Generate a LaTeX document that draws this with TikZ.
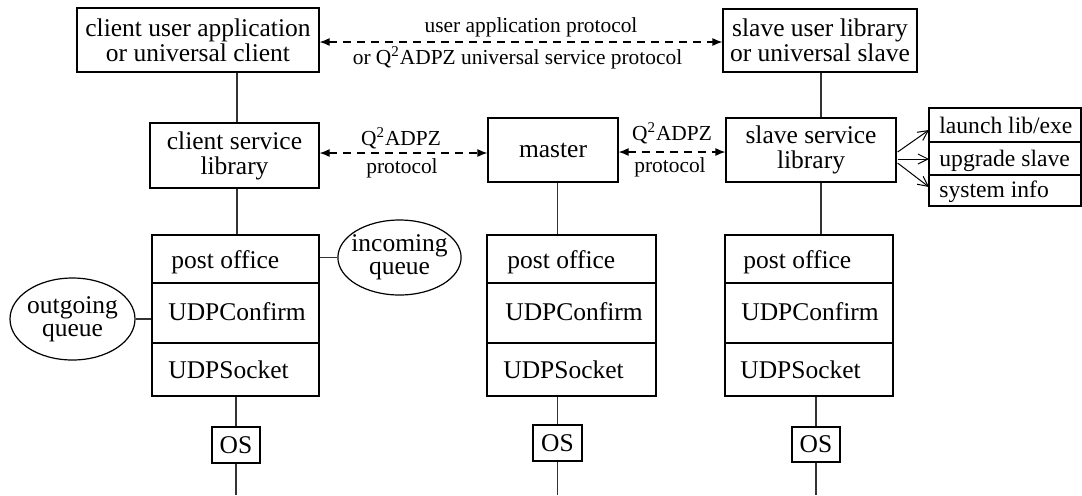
\documentclass[tikz,border=0pt]{standalone}
\usepackage{fontspec}
\setmainfont{Liberation Serif}
\usetikzlibrary{arrows.meta,shapes.geometric,calc}
\newcommand{\px}{0.5pt}
\tikzset{
  big/.style={font=\fontsize{12.75}{12.6}\selectfont},
  small/.style={font=\fontsize{10.7}{12}\selectfont},
  mid/.style={font=\fontsize{11.8}{12}\selectfont},
  sz/.style 2 args={minimum width=#1*\px, minimum height=#2*\px},
  box/.style={draw, line width=0.6pt, inner sep=0pt, align=center, big},
  queue/.style={draw, ellipse, line width=0.6pt, inner ysep=0pt, inner xsep=-2.3pt, align=center, font=\fontsize{12.75}{11.3}\selectfont},
  link/.style={line width=0.6pt, draw=black!80},
  proto/.style={line width=0.6pt, dash pattern=on 4pt off 3pt, {Latex[length=5pt,width=4pt]}-{Latex[length=5pt,width=4pt]}},
  call/.style={line width=0.5pt, -{Straight Barb[length=5pt,width=5pt]}},
  cell/.style={anchor=base west, inner sep=0pt, big},
}
\begin{document}
\begin{tikzpicture}[x=0.5pt,y=-0.5pt]
\useasboundingbox (0,0) rectangle (1082,495);

% upper level
\node[box, sz={242}{64}] (cua) at (198,40) {client user application\\or universal client};
\node[box, sz={194}{63}] (sul) at (820,40.5) {slave user library\\or universal slave};

% service level
\node[box, sz={169}{65}] (csl) at (234.5,155.5) {client service\\library};
\node[box, sz={130}{64}] (mst) at (553,150) {master};
\node[box, sz={170}{64}] (ssl) at (811,150) {slave service\\library};

% slave tasks
\node[draw, line width=0.6pt, sz={152}{98}, inner sep=0pt] (tasks) at (1005,157) {};
\draw[line width=0.6pt] (929,142) -- (1081,142) (929,175) -- (1081,175);
\node[cell, mid] (t1) at (939,133) {launch lib/exe};
\node[cell, mid] (t2) at (939,166) {upgrade slave};
\node[cell, mid] (t3) at (939,197) {system info};
\coordinate (t1w) at (929,130);
\coordinate (t2w) at (929,159);
\coordinate (t3w) at (929,187);

% communication stacks
\node[draw, line width=0.6pt, sz={167}{161}, inner sep=0pt] (cst) at (235.5,315.5) {};
\node[draw, line width=0.6pt, sz={169}{161}, inner sep=0pt] (mstk) at (571.5,315.5) {};
\node[draw, line width=0.6pt, sz={168}{161}, inner sep=0pt] (sst) at (809,315.5) {};
\foreach \s in {cst,mstk,sst}{
  \draw[line width=0.6pt] ($(\s.west)+(0,-32.5)$) -- ($(\s.east)+(0,-32.5)$);
  \draw[line width=0.6pt] ($(\s.west)+(0,27.5)$) -- ($(\s.east)+(0,27.5)$);
}
\node[cell] at (171,268) {post office};
\node[cell] at (168,320) {UDPConfirm};
\node[cell] at (168,378) {UDPSocket};
\node[cell] at (507,268) {post office};
\node[cell] at (505,320) {UDPConfirm};
\node[cell] at (503,378) {UDPSocket};
\node[cell] at (743,268) {post office};
\node[cell] at (741,320) {UDPConfirm};
\node[cell] at (740,378) {UDPSocket};

% queues
\node[queue, sz={123}{75}] (inq) at (399.5,257.5) {incoming\\queue};
\node[queue, sz={125}{82}] (outq) at (72.5,319) {outgoing\\queue};

% operating system
\node[box, sz={48}{36}] (cos) at (236,445) {OS};
\node[box, sz={49}{36}] (mos) at (557.5,443) {OS};
\node[box, sz={48}{35}] (sos) at (816,444.5) {OS};
\coordinate (cend) at (236,495);
\coordinate (mend) at (557.5,495);
\coordinate (send) at (816,495);
\coordinate (ccol) at (237,0);
\coordinate (scol) at (821,0);

% vertical links
\draw[link] (cua.south -| ccol) -- (csl.north -| ccol);
\draw[link] (csl.south -| ccol) -- (cst.north -| ccol);
\draw[link] (cst.south -| cos.north) -- (cos.north);
\draw[link] (cos.south) -- (cend);
\draw[link] (mst.south -| mos.north) -- (mstk.north -| mos.north);
\draw[link] (mstk.south -| mos.north) -- (mos.north);
\draw[link] (mos.south) -- (mend);
\draw[link] (sul.south -| scol) -- (ssl.north -| scol);
\draw[link] (ssl.south -| scol) -- (sst.north -| scol);
\draw[link] (sst.south -| sos.north) -- (sos.north);
\draw[link] (sos.south) -- (send);
\draw[link] (cst.east |- inq.west) -- (inq.west);
\draw[link] (outq.east) -- (outq.east -| cst.west);

% protocols
\coordinate (r1) at (0,42);
\coordinate (r2) at (0,153);
\coordinate (r3) at (0,152);
\draw[proto] (cua.east |- r1) -- (sul.west |- r1);
\node[small, anchor=base] at (531,32) {user application protocol};
\node[small, anchor=base] at (517.5,64) {or Q\textsuperscript{2}ADPZ universal service protocol};
\draw[proto] (csl.east |- r2) -- (mst.west |- r2);
\node[small, anchor=base] at (401,145) {Q\textsuperscript{2}ADPZ};
\node[small, anchor=base] at (402,173) {protocol};
\draw[proto] (mst.east |- r3) -- (ssl.west |- r3);
\node[small, anchor=base] at (672,140) {Q\textsuperscript{2}ADPZ};
\node[small, anchor=base] at (670,172) {protocol};

% service calls
\draw[call] ($(ssl.east)+(1,2)$) -- (t1w);
\draw[call] ($(ssl.east)+(1,9)$) -- (t2w);
\draw[call] ($(ssl.east)+(1,13)$) -- (t3w);
\end{tikzpicture}
\end{document}
